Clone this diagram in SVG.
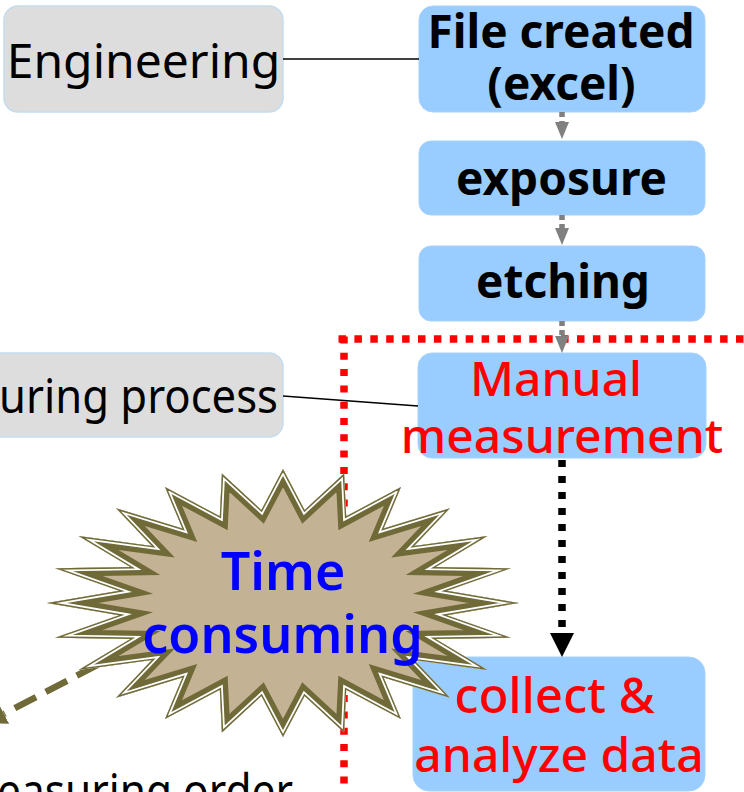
<svg xmlns="http://www.w3.org/2000/svg" xmlns:xlink="http://www.w3.org/1999/xlink" width="744" height="792" viewBox="0 0 744 792">
  <style>
    .proc { fill: #99CCFF; stroke: #A6D2FF; stroke-width: 1; }
    .side { fill: #DDDDDD; stroke: #C5DCEE; stroke-width: 1.5; }
    text { font-family: "Noto Sans", "Open Sans", "DejaVu Sans", sans-serif; text-anchor: middle; }
    .bold { font-weight: 700; fill: #000000; font-size: 46px; }
    .plain { font-weight: 400; fill: #000000; font-size: 48px; }
    .red { font-weight: 500; fill: #FF0000; font-size: 48px; }
    .blue { font-weight: 600; fill: #0000FF; font-size: 52px; }
    .link { stroke: #000000; stroke-width: 1.6; fill: none; }
    .gray { stroke: #808080; stroke-width: 5.5; stroke-dasharray: 5 4; fill: none; }
    .black { stroke: #000000; stroke-width: 7.5; stroke-dasharray: 7 9; fill: none; }
    .olive { stroke: #6F6A38; stroke-width: 6.5; stroke-dasharray: 24 11; fill: none; }
    .frame { stroke: #FF0000; stroke-width: 7.5; fill: none; }
  </style>
  <defs>
    <marker id="grayHead" markerUnits="userSpaceOnUse" markerWidth="17" markerHeight="14" refX="0" refY="7" orient="auto" viewBox="0 0 17 14">
      <path d="M0,0 L17,7 L0,14 Z" fill="#808080"/>
    </marker>
    <marker id="blackHead" markerUnits="userSpaceOnUse" markerWidth="24" markerHeight="24" refX="0" refY="12" orient="auto" viewBox="0 0 24 24">
      <path d="M0,0 L24,12 L0,24 Z" fill="#000000"/>
    </marker>
    <marker id="oliveHead" markerUnits="userSpaceOnUse" markerWidth="20" markerHeight="22" refX="0" refY="11" orient="auto" viewBox="0 0 20 22">
      <path d="M0,0 L20,11 L0,22 Z" fill="#6F6A38"/>
    </marker>
    <!-- 24-point burst outline -->
    <path id="burst" d="M283,469 L304.6,510 L344.1,473.6 L346.2,516.3 L401,487 L383.6,528.6 L449.9,508.3 L414.1,545.9 L487.4,536 L435.6,567.1 L510.9,568.3 L446.8,590.8 L519,603 L446.8,615.2 L510.9,637.7 L435.6,638.9 L487.4,670 L414.1,660.1 L449.9,697.7 L383.6,677.4 L401,719 L346.2,689.7 L344.1,732.4 L304.6,696 L283,737 L261.4,696 L221.9,732.4 L219.8,689.7 L165,719 L182.4,677.4 L116.1,697.7 L151.9,660.1 L78.6,670 L130.4,638.9 L55.1,637.7 L119.2,615.2 L47,603 L119.2,590.8 L55.1,568.3 L130.4,567.1 L78.6,536 L151.9,545.9 L116.1,508.3 L182.4,528.6 L165,487 L219.8,516.3 L221.9,473.6 L261.4,510 Z"/>
    <clipPath id="burstClip">
      <use xlink:href="#burst"/>
    </clipPath>
  </defs>

  <!-- dotted red frame around the manual part of the flow -->
  <g id="frame">
    <path class="frame" d="M338.5,339 H760" stroke-dasharray="7.5 8.4"/>
    <path class="frame" d="M344,336.5 V800" stroke-dasharray="7 9.3"/>
  </g>

  <!-- side labels -->
  <g id="engineering">
    <rect class="side" x="4" y="6" width="279" height="106" rx="14"/>
    <text class="plain" x="143.5" y="78">Engineering</text>
  </g>
  <g id="measuring-process">
    <rect class="side" x="-30" y="353" width="313" height="84" rx="14"/>
    <text class="plain" x="-1" y="413" textLength="279" lengthAdjust="spacingAndGlyphs" style="text-anchor:start">uring process</text>
  </g>
  <g id="measuring-order">
    <text class="plain" x="-3" y="808" textLength="296" lengthAdjust="spacingAndGlyphs" style="text-anchor:start">easuring order</text>
  </g>

  <!-- process steps -->
  <g id="file-created">
    <rect class="proc" x="419" y="6" width="286" height="106" rx="14"/>
    <text class="bold" x="561" y="48">File created</text>
    <text class="bold" x="561.5" y="100">(excel)</text>
  </g>
  <g id="exposure">
    <rect class="proc" x="419" y="141" width="286" height="74" rx="12"/>
    <text class="bold" x="561.5" y="195">exposure</text>
  </g>
  <g id="etching">
    <rect class="proc" x="419" y="246" width="286" height="75" rx="12"/>
    <text class="bold" x="563" y="298">etching</text>
  </g>
  <g id="manual-measurement">
    <rect class="proc" x="418" y="353" width="288" height="105" rx="14"/>
    <text class="red" x="556" y="396">Manual</text>
    <text class="red" x="562" y="453">measurement</text>
  </g>
  <g id="collect-analyze">
    <rect class="proc" x="413" y="657" width="292" height="134" rx="16"/>
    <text class="red" x="554.5" y="713" style="font-size:49px">collect &amp;</text>
    <text class="red" x="559" y="772">analyze data</text>
  </g>

  <!-- connectors -->
  <g id="connectors">
    <line class="link" x1="283" y1="59" x2="419" y2="59"/>
    <line class="link" x1="283" y1="396" x2="418" y2="406"/>
    <path class="gray" d="M562,112 V122" marker-end="url(#grayHead)"/>
    <path class="gray" d="M562,215 V228" marker-end="url(#grayHead)"/>
    <path class="gray" d="M562,321 V336" marker-end="url(#grayHead)"/>
    <path class="black" d="M562,460 V633" marker-end="url(#blackHead)"/>
    <path class="olive" d="M160,632 L4,713.9" marker-end="url(#oliveHead)"/>
  </g>

  <!-- burst callout -->
  <g id="time-consuming">
    <use xlink:href="#burst" fill="#C3B293"/>
    <g clip-path="url(#burstClip)" fill="none" stroke-linejoin="miter" stroke-miterlimit="20">
      <use xlink:href="#burst" stroke="#6F6A38" stroke-width="17"/>
      <use xlink:href="#burst" stroke="#FFFFFF" stroke-width="6.4"/>
      <use xlink:href="#burst" stroke="#6F6A38" stroke-width="2.8"/>
    </g>
    <text class="blue" x="283" y="590">Time</text>
    <text class="blue" x="282.5" y="653">consuming</text>
  </g>
</svg>
